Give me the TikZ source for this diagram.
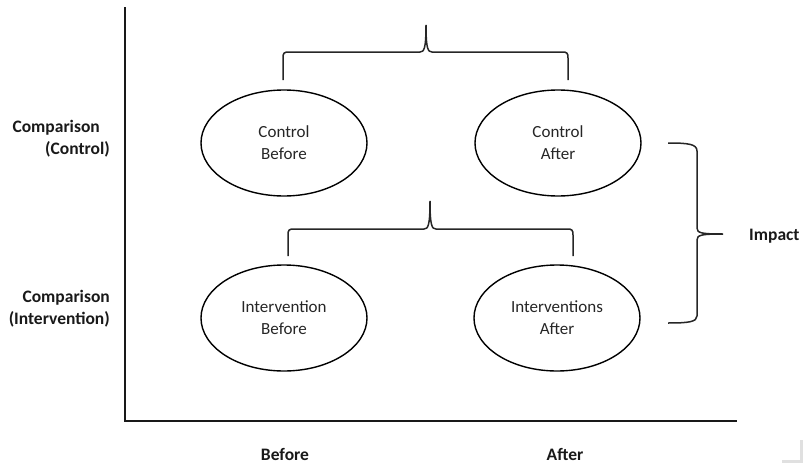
\documentclass[tikz,border=0pt]{standalone}
\usepackage{fontspec}
\setmainfont{Carlito}
\usetikzlibrary{shapes.geometric}
\tikzset{
  oval/.style={draw=black, line width=1.4pt, ellipse, minimum width=166pt, minimum height=106pt, inner sep=0pt, align=center, font=\fontsize{17}{22}\selectfont, text=black!85},
  axisline/.style={line width=2.6pt, black!90},
  braceline/.style={line width=1.5pt, black!85},
  lbl/.style={font=\fontsize{17.5}{21}\selectfont\bfseries, inner sep=0pt, text=black!90},
}
\begin{document}
\begin{tikzpicture}[x=1pt,y=-1pt]
\useasboundingbox (0,0) rectangle (804,463);
% axes
\coordinate (top) at (125,8);
\coordinate (origin) at (125,421);
\coordinate (xend) at (736,421);
\draw[axisline, line cap=rect] (top) -- (origin) -- (xend);
% ellipses
\node[oval] (cb) at (284,143) {Control\\Before};
\node[oval] (ca) at (558,143) {Control\\After};
\node[oval] (ib) at (284,318) {Intervention\\Before};
\node[oval] (ia) at (557,318) {Interventions\\After};
% left labels
\node[lbl, anchor=base east] (c1a) at (100,132) {Comparison};
\node[lbl, anchor=base east] (c1b) at (110,154) {(Control)};
\node[lbl, anchor=base east] (c2a) at (110,302) {Comparison};
\node[lbl, anchor=base east] (c2b) at (110,324) {(Intervention)};
% bottom labels
\node[lbl, anchor=base] (bef) at (285,460) {Before};
\node[lbl, anchor=base] (aft) at (565,460) {After};
% right label
\node[lbl, anchor=west] (imp) at (749,236) {Impact};
% top brace
\draw[braceline] (283,80) -- (283,58) .. controls (283,53) and (284,52) .. (289,52)
  -- (420,52) .. controls (424,52) and (426,49) .. (426,25)
  .. controls (426,49) and (428,52) .. (432,52)
  -- (562,52) .. controls (567,52) and (568,53) .. (568,58) -- (568,80);
% middle brace
\draw[braceline] (288,256) -- (288,235) .. controls (288,230) and (289,229) .. (294,229)
  -- (424,229) .. controls (428,229) and (430,226) .. (430,201)
  .. controls (430,226) and (432,229) .. (436,229)
  -- (567,229) .. controls (572,229) and (573,230) .. (573,235) -- (573,256);
% right brace
\draw[braceline] (668,143) .. controls (688,143) and (697,144) .. (697,151)
  -- (697,228) .. controls (697,233) and (701,234) .. (723,234)
  .. controls (701,234) and (697,235) .. (697,240)
  -- (697,316) .. controls (697,322) and (688,323) .. (668,323);
% faint corner mark
\draw[black!12, line width=3pt] (782,461) -- (801,461) -- (801,440);
\end{tikzpicture}
\end{document}
